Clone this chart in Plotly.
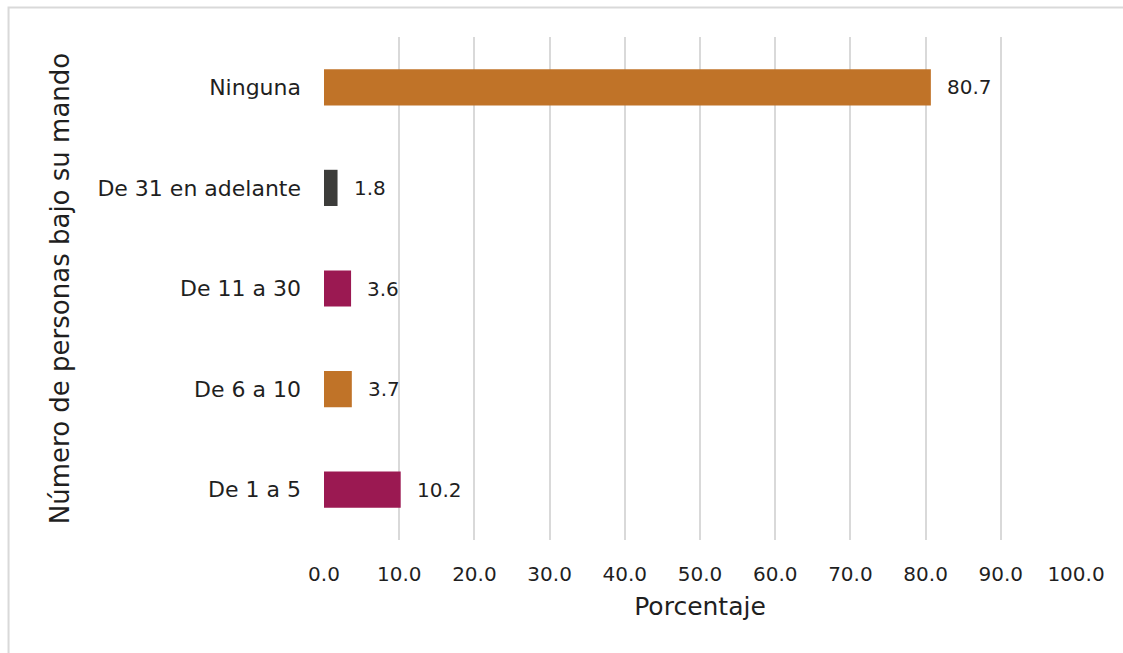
import plotly.graph_objects as go

# Share of respondents by number of people under their command
categories = ["De 1 a 5", "De 6 a 10", "De 11 a 30", "De 31 en adelante", "Ninguna"]
values = [10.2, 3.7, 3.6, 1.8, 80.7]
bar_colors = ["#9B1952", "#C07328", "#9B1952", "#3C3C3A", "#C07328"]
x_ticks = [0, 10, 20, 30, 40, 50, 60, 70, 80, 90, 100]

FONT = "DejaVu Sans"
TEXT = "#1f1f1f"

fig = go.Figure(
    go.Bar(
        x=values,
        y=categories,
        orientation="h",
        marker=dict(color=bar_colors, line=dict(width=0)),
        hoverinfo="skip",
    )
)

# value labels just right of each bar end
for cat, v in zip(categories, values):
    fig.add_annotation(
        x=v, y=cat, text=f"{v:.1f}", showarrow=False,
        xanchor="left", yanchor="middle", xshift=14,
        font=dict(family=FONT, size=20, color=TEXT),
    )

# thin frame around the chart area
fig.add_shape(
    type="rect", xref="paper", yref="paper",
    x0=-0.4195, x1=1.08, y0=-0.25, y1=1.0586,
    line=dict(color="#d9d9d9", width=2), fillcolor="rgba(0,0,0,0)",
    layer="below",
)

fig.update_layout(
    width=1123, height=653,
    margin=dict(l=324, r=47, t=37, b=113),
    paper_bgcolor="white", plot_bgcolor="white",
    bargap=0.64,
    showlegend=False,
    font=dict(family=FONT, size=20, color=TEXT),
    xaxis=dict(
        range=[0, 100],
        tickvals=x_ticks,
        ticktext=[f"{t:.1f}" for t in x_ticks],
        tickfont=dict(family=FONT, size=20, color=TEXT),
        showgrid=True, gridcolor="#d9d9d9", gridwidth=2,
        zeroline=False, showline=False, ticks="",
        ticklabelstandoff=20,
        title=dict(text="Porcentaje", font=dict(family=FONT, size=25, color=TEXT), standoff=12),
        fixedrange=True,
    ),
    yaxis=dict(
        categoryorder="array", categoryarray=categories,
        tickfont=dict(family=FONT, size=22, color=TEXT),
        showgrid=False, zeroline=False, showline=False, ticks="",
        ticklabelstandoff=22,
        title=dict(text="Número de personas bajo su mando", font=dict(family=FONT, size=26, color=TEXT), standoff=20),
        fixedrange=True,
    ),
)

fig.write_html("out.html")
